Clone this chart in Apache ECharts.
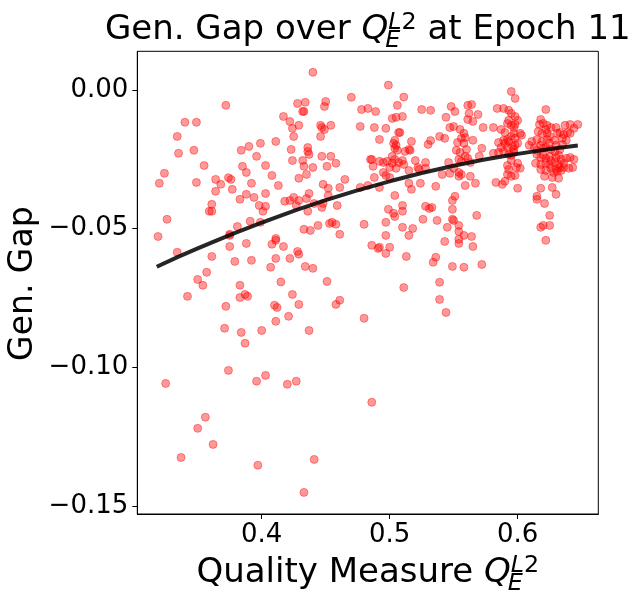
<!DOCTYPE html>
<html>
<head>
<meta charset="utf-8">
<script src="https://cdn.jsdelivr.net/npm/echarts@6/dist/echarts.min.js"></script>
<style>
html,body{margin:0;padding:0;background:#fff;}
#chart{width:638px;height:604px;}
</style>
</head>
<body>
<div id="chart"></div>
<script>
// ---- Data ----
const qualityValues = [
0.440,0.372,0.340,0.349,0.334,0.335,0.347,0.355,0.324,0.320,0.349,0.364,0.368,0.364,0.361,0.359,0.361,0.326,0.319,0.334,
0.361,0.357,0.350,0.374,0.376,0.377,0.383,0.388,0.392,0.388,0.385,0.384,0.390,0.396,0.399,0.403,0.408,0.413,0.403,0.394,
0.398,0.403,0.401,0.411,0.417,0.422,0.425,0.424,0.429,0.428,0.434,0.432,0.433,0.423,0.424,0.432,0.433,0.436,0.436,0.437,
0.440,0.435,0.429,0.425,0.422,0.418,0.429,0.427,0.435,0.437,0.441,0.436,0.447,0.454,0.451,0.458,0.448,0.452,0.452,0.461,
0.465,0.448,0.447,0.459,0.446,0.447,0.449,0.446,0.454,0.449,0.450,0.470,0.478,0.483,0.477,0.485,0.477,0.483,0.480,0.453,
0.455,0.458,0.461,0.444,0.433,0.438,0.399,0.391,0.381,0.375,0.375,0.375,0.388,0.379,0.392,0.411,0.407,0.411,0.411,0.408,
0.417,0.422,0.428,0.429,0.434,0.440,0.415,0.451,
0.354,0.342,0.372,0.371,0.383,0.383,0.387,0.389,0.384,0.387,0.400,0.424,0.429,0.410,0.412,0.411,0.421,0.437,0.458,0.461,
0.480,0.325,0.374,0.396,0.403,0.420,0.427,0.356,0.350,0.362,0.337,0.397,0.441,0.433,0.486,
0.511,0.539,0.539,0.544,
0.499,0.511,0.506,0.489,0.502,0.505,0.510,0.525,0.532,0.488,0.497,0.507,0.508,0.492,0.504,0.503,0.505,0.504,0.506,0.517,
0.512,0.515,0.516,0.502,0.486,0.492,0.495,0.498,0.502,0.504,0.507,0.510,0.511,0.487,0.500,0.505,0.515,0.520,0.522,0.523,
0.528,0.528,0.495,0.497,0.500,0.488,0.492,0.515,0.517,0.524,0.536,0.504,0.499,0.503,0.504,0.510,0.510,0.528,0.531,0.533,
0.526,0.537,0.497,0.510,0.518,0.497,0.515,0.486,0.492,0.491,0.497,0.500,0.513,0.536,0.534,0.543,0.545,0.549,0.549,0.551,
0.549,0.550,0.554,0.554,0.558,0.554,0.554,0.564,0.565,0.549,0.558,0.572,0.568,0.544,0.548,0.551,0.547,0.550,0.561,0.564,
0.562,0.561,0.565,0.569,0.573,0.539,0.543,0.530,0.532,0.555,0.558,0.556,0.559,0.558,0.553,0.565,0.552,0.555,0.560,0.559,
0.572,0.570,0.554,0.556,0.561,0.563,0.546,0.547,0.541,0.550,0.554,0.554,0.556,0.563,0.559,0.567,
0.595,0.598,0.584,0.589,0.593,0.595,0.598,0.600,0.581,0.587,0.590,0.592,0.593,0.595,0.597,0.598,0.597,0.595,0.598,0.603,
0.602,0.585,0.589,0.590,0.592,0.593,0.587,0.592,0.596,0.597,0.598,0.600,0.581,0.585,0.589,0.593,0.595,0.597,0.592,0.595,
0.593,0.600,0.599,0.602,0.592,0.595,0.598,0.583,0.588,0.590,0.600,0.622,0.618,0.617,0.620,0.623,0.626,0.622,0.616,0.619,
0.623,0.625,0.611,0.615,0.619,0.623,0.625,0.629,0.609,0.613,0.615,0.618,0.620,0.622,0.626,0.630,0.629,0.633,0.635,0.615,
0.618,0.620,0.622,0.625,0.626,0.630,0.632,0.634,0.638,0.641,0.644,0.614,0.618,0.622,0.625,0.629,0.632,0.636,0.643,0.640,
0.636,0.618,0.622,0.626,0.630,0.633,0.628,0.631,0.634,0.621,0.627,0.632,0.630,0.633,0.636,0.639,0.641,0.637,0.641,0.647,
0.644,0.638,0.635,0.631,0.618,0.627,
0.615,0.615,0.621,0.630,0.625,0.618,0.620,0.625,0.622
];
const genGapValues = [
0.0064,-0.0055,-0.0116,-0.0116,-0.0167,-0.0228,-0.0217,-0.0272,-0.0300,-0.0336,-0.0333,-0.0322,-0.0340,-0.0365,-0.0412,-0.0437,-0.0437,-0.0466,-0.0528,-0.0585,
-0.0600,-0.0657,-0.0683,-0.0316,-0.0322,-0.0358,-0.0394,-0.0376,-0.0336,-0.0297,-0.0275,-0.0217,-0.0203,-0.0239,-0.0192,-0.0272,-0.0308,-0.0344,-0.0373,-0.0387,
-0.0416,-0.0419,-0.0437,-0.0185,-0.0095,-0.0113,-0.0167,-0.0138,-0.0127,-0.0048,-0.0044,-0.0077,-0.0077,-0.0214,-0.0254,-0.0254,-0.0275,-0.0207,-0.0221,-0.0232,
-0.0279,-0.0304,-0.0318,-0.0387,-0.0398,-0.0401,-0.0398,-0.0416,-0.0391,-0.0373,-0.0409,-0.0437,-0.0239,-0.0239,-0.0275,-0.0264,-0.0340,-0.0354,-0.0380,-0.0351,
-0.0322,-0.0409,-0.0423,-0.0416,-0.0127,-0.0135,-0.0142,-0.0167,-0.0127,-0.0059,-0.0041,-0.0026,-0.0070,-0.0066,-0.0131,-0.0250,-0.0351,-0.0344,-0.0484,-0.0481,
-0.0477,-0.0484,-0.0520,-0.0488,-0.0502,-0.0506,-0.0477,-0.0473,-0.0492,-0.0520,-0.0524,-0.0564,-0.0553,-0.0618,-0.0614,-0.0607,-0.0639,-0.0535,-0.0542,-0.0556,
-0.0564,-0.0607,-0.0582,-0.0592,-0.0636,-0.0643,-0.0692,-0.0690,
-0.0704,-0.0744,-0.0780,-0.0859,-0.0704,-0.0748,-0.0737,-0.0744,-0.0874,-0.0913,-0.0867,-0.0737,-0.0773,-0.0776,-0.0784,-0.0834,-0.0816,-0.0867,-0.0773,-0.0758,
-0.0823,-0.1058,-0.1011,-0.1050,-0.1029,-0.1061,-0.1050,-0.1180,-0.1220,-0.1278,-0.1325,-0.1353,-0.1332,-0.1451,-0.1126,
-0.0712,-0.0693,-0.0755,-0.0802,
0.0018,-0.0025,-0.0055,-0.0077,-0.0102,-0.0098,-0.0095,-0.0070,-0.0073,-0.0135,-0.0138,-0.0153,-0.0153,-0.0178,-0.0181,-0.0192,-0.0199,-0.0210,-0.0217,-0.0185,
-0.0221,-0.0214,-0.0217,-0.0239,-0.0250,-0.0257,-0.0261,-0.0257,-0.0264,-0.0250,-0.0261,-0.0254,-0.0268,-0.0275,-0.0279,-0.0282,-0.0290,-0.0254,-0.0279,-0.0286,
-0.0261,-0.0282,-0.0297,-0.0308,-0.0315,-0.0315,-0.0351,-0.0336,-0.0358,-0.0336,-0.0347,-0.0380,-0.0430,-0.0444,-0.0456,-0.0437,-0.0416,-0.0419,-0.0427,-0.0423,
-0.0466,-0.0470,-0.0477,-0.0495,-0.0499,-0.0524,-0.0524,-0.0560,-0.0567,-0.0571,-0.0589,-0.0567,-0.0600,-0.0603,-0.0621,-0.0546,-0.0495,-0.0466,-0.0430,-0.0383,
-0.0398,-0.0470,-0.0488,-0.0510,-0.0524,-0.0538,-0.0553,-0.0528,-0.0564,-0.0636,-0.0639,-0.0629,-0.0452,-0.0098,-0.0059,-0.0077,-0.0135,-0.0131,-0.0055,-0.0052,
-0.0084,-0.0106,-0.0113,-0.0088,-0.0135,-0.0167,-0.0174,-0.0196,-0.0182,-0.0142,-0.0156,-0.0174,-0.0171,-0.0192,-0.0189,-0.0181,-0.0217,-0.0225,-0.0214,-0.0239,
-0.0210,-0.0239,-0.0250,-0.0257,-0.0246,-0.0261,-0.0261,-0.0300,-0.0304,-0.0282,-0.0297,-0.0311,-0.0304,-0.0311,-0.0344,-0.0336,
-0.0005,-0.0030,-0.0066,-0.0066,-0.0073,-0.0084,-0.0095,-0.0109,-0.0135,-0.0142,-0.0153,-0.0120,-0.0109,-0.0127,-0.0135,-0.0124,-0.0156,-0.0167,-0.0174,-0.0163,
-0.0156,-0.0189,-0.0181,-0.0192,-0.0178,-0.0185,-0.0207,-0.0207,-0.0203,-0.0214,-0.0199,-0.0192,-0.0228,-0.0225,-0.0221,-0.0232,-0.0235,-0.0225,-0.0272,-0.0254,
-0.0286,-0.0264,-0.0279,-0.0282,-0.0304,-0.0311,-0.0308,-0.0333,-0.0340,-0.0329,-0.0354,-0.0070,-0.0106,-0.0124,-0.0120,-0.0127,-0.0135,-0.0142,-0.0149,-0.0156,
-0.0156,-0.0167,-0.0185,-0.0178,-0.0185,-0.0178,-0.0192,-0.0181,-0.0199,-0.0207,-0.0217,-0.0199,-0.0210,-0.0207,-0.0214,-0.0199,-0.0221,-0.0214,-0.0196,-0.0232,
-0.0243,-0.0235,-0.0246,-0.0239,-0.0254,-0.0243,-0.0235,-0.0250,-0.0246,-0.0243,-0.0250,-0.0264,-0.0268,-0.0264,-0.0268,-0.0261,-0.0268,-0.0264,-0.0279,-0.0282,
-0.0279,-0.0286,-0.0290,-0.0282,-0.0286,-0.0279,-0.0297,-0.0293,-0.0290,-0.0311,-0.0315,-0.0318,-0.0135,-0.0153,-0.0160,-0.0153,-0.0156,-0.0127,-0.0124,-0.0124,
-0.0138,-0.0181,-0.0174,-0.0156,-0.0354,-0.0351,
-0.0383,-0.0394,-0.0409,-0.0376,-0.0452,-0.0495,-0.0488,-0.0488,-0.0542
];
// fitted trend curve
const fitX = [0.318, 0.35, 0.40, 0.45, 0.50, 0.55, 0.60, 0.647];
const fitY = [-0.0637, -0.0571, -0.0478, -0.0397, -0.0329, -0.0273, -0.0230, -0.0200];
// axis ticks
const xTicks = [0.4, 0.5, 0.6];
const yTicks = [-0.15, -0.10, -0.05, 0.00];
const xRange = [0.3028, 0.663];
const yRange = [-0.1529, 0.0140];

// ---- Layout ----
const FAM = '"DejaVu Sans"';
const GRID = {left: 137.3, top: 51.3, right: 39.7, bottom: 90};
const meas = document.createElement('canvas').getContext('2d');
function tw(text, font) { meas.font = font; return meas.measureText(text).width; }
// distance between the canvas "middle" line and the alphabetic baseline
function midOffset(font) {
  meas.font = font; meas.textBaseline = 'middle';
  const m = meas.measureText('Hx');
  meas.textBaseline = 'alphabetic';
  if (m && typeof m.alphabeticBaseline === 'number' && m.alphabeticBaseline !== 0) return Math.abs(m.alphabeticBaseline);
  return 0.32 * parseFloat(font.match(/(\d+(\.\d+)?)px/)[1]);
}
function txt(text, x, baseline, font) {
  const off = midOffset(font);
  return {
    type: 'text', silent: true,
    x: x, y: baseline - off,
    style: {text: text, x: 0, y: 0, font: font, fill: '#000', align: 'left', verticalAlign: 'middle'}
  };
}
// builds "pre Q_E^{L2} post" centred at cx, with the given baseline
function mathLabel(pre, post, S, cx, baseline) {
  const s = S * 0.7;
  const fN = S + 'px ' + FAM, fI = 'italic ' + S + 'px ' + FAM;
  const fsN = s.toFixed(1) + 'px ' + FAM, fsI = 'italic ' + s.toFixed(1) + 'px ' + FAM;
  const wPre = tw(pre, fN), wQ = tw('Q', fI);
  const wL = tw('L', fsI), w2 = tw('2', fsN), wE = tw('E', fsI);
  const subShift = -0.09 * S;
  const wScript = Math.max(wL + w2, wE + subShift);
  const wPost = tw(post, fN);
  const total = wPre + wQ + wScript + wPost;
  let x = cx - total / 2;
  const els = [];
  els.push(txt(pre, x, baseline, fN)); x += wPre;
  els.push(txt('Q', x, baseline, fI)); x += wQ;
  els.push(txt('L', x, baseline - 0.30 * S, fsI));
  els.push(txt('2', x + wL, baseline - 0.30 * S, fsN));
  els.push(txt('E', x + subShift, baseline + 0.24 * S, fsI));
  x += wScript;
  if (post) els.push(txt(post, x, baseline, fN));
  return els;
}

const chart = echarts.init(document.getElementById('chart'), null, {renderer: 'canvas'});
const cx = GRID.left + (638 - GRID.left - GRID.right) / 2;
const graphics = [].concat(
  mathLabel('Gen. Gap over ', ' at Epoch 11', 34, cx, 39),
  mathLabel('Quality Measure ', '', 34, cx, 582)
);
// rotated y-axis title (baseline at x = 32)
(function () {
  const f = '33px ' + FAM;
  const off = midOffset(f);
  graphics.push({
    type: 'text', silent: true,
    x: 32 - off, y: GRID.top + (604 - GRID.top - GRID.bottom) / 2 + 1,
    rotation: Math.PI / 2,
    style: {text: 'Gen. Gap', x: 0, y: 0, font: f, fill: '#000', align: 'center', verticalAlign: 'middle'}
  });
})();

const option = {
  animation: false,
  backgroundColor: '#fff',
  grid: {left: GRID.left, top: GRID.top, right: GRID.right, bottom: GRID.bottom,
         containLabel: false, outerBoundsMode: 'none',
         show: true, borderColor: '#000', borderWidth: 1, backgroundColor: 'transparent'},
  xAxis: {
    type: 'value', min: xRange[0], max: xRange[1],
    splitLine: {show: false},
    axisLine: {show: true, onZero: false, lineStyle: {color: '#000', width: 1}},
    axisTick: {show: true, length: 5, lineStyle: {color: '#000', width: 1}, customValues: xTicks},
    axisLabel: {show: true, customValues: xTicks, margin: 8, color: '#000',
                fontFamily: 'DejaVu Sans', fontSize: 26,
                formatter: v => v.toFixed(1)}
  },
  yAxis: {
    type: 'value', min: yRange[0], max: yRange[1],
    splitLine: {show: false},
    axisLine: {show: true, onZero: false, lineStyle: {color: '#000', width: 1}},
    axisTick: {show: true, length: 5, lineStyle: {color: '#000', width: 1}, customValues: yTicks},
    axisLabel: {show: true, customValues: yTicks, margin: 9, color: '#000',
                fontFamily: 'DejaVu Sans', fontSize: 26,
                formatter: v => (v < -1e-9 ? '\u2212' : '') + Math.abs(v).toFixed(2)}
  },
  series: [
    {
      type: 'scatter', silent: true,
      data: qualityValues.map((x, i) => [x, genGapValues[i]]),
      symbol: 'circle', symbolSize: 8,
      itemStyle: {color: 'rgba(255,0,0,0.5)', borderColor: 'rgba(255,0,0,0.5)', borderWidth: 1},
      z: 2
    },
    {
      type: 'line', silent: true,
      data: fitX.map((x, i) => [x, fitY[i]]),
      smooth: true, showSymbol: false, symbol: 'none',
      lineStyle: {color: '#000', width: 4, opacity: 0.85},
      z: 3
    }
  ],
  graphic: graphics
};
chart.setOption(option);
</script>
</body>
</html>
